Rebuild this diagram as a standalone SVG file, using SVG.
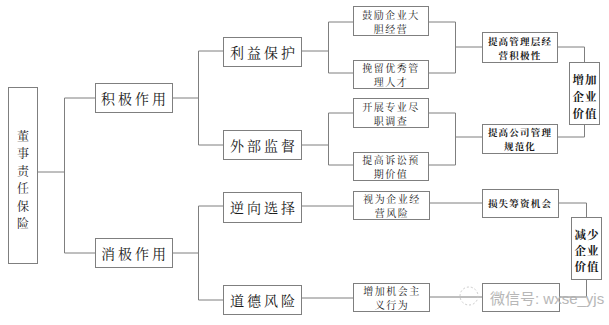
<svg xmlns="http://www.w3.org/2000/svg" width="609" height="325" viewBox="0 0 609 325">
<style>
.b{fill:#fff;stroke:#7f7f7f;stroke-width:1}
.c{fill:none;stroke:#7f7f7f;stroke-width:1}
text{font-family:"Noto Serif CJK SC","Noto Sans CJK SC",serif;fill:#1a1a1a;text-anchor:middle;dominant-baseline:central}
.l1{font-size:14px;letter-spacing:3px}
.r{font-size:12px}
.s{font-size:10px;letter-spacing:1.5px}
.t{font-size:9.5px;letter-spacing:1.2px;font-weight:bold}
.v{font-size:11.5px;font-weight:bold;letter-spacing:1px}
.wm{font-family:"Liberation Sans","Noto Sans CJK SC",sans-serif;fill:#b0b0b0;font-size:15px;text-anchor:start}
</style>
<rect width="609" height="325" fill="#fff"/>
<g id="connectors">
<path class="c" d="M37.5 172H64.5M64.5 98V253M64.5 98H95M64.5 253H95"/>
<path class="c" d="M172 98H198.5M198.5 51V145M198.5 51H223M198.5 145H223"/>
<path class="c" d="M172 253H198.5M198.5 206V300M198.5 206H223M198.5 300H223"/>
<path class="c" d="M301 51H328.5M328.5 22V73M328.5 22H353M328.5 73H353"/>
<path class="c" d="M301 145H328.5M328.5 113V165M328.5 113H353M328.5 165H353"/>
<path class="c" d="M428 22H455.5V73H428M455.5 47H482"/>
<path class="c" d="M428 113H455.5V165H428M455.5 137H482"/>
<path class="c" d="M557 47H584.5V62M557 137H584.5V124"/>
<path class="c" d="M301 206H353M429 203H482M301 298H353M429 297H482"/>
<path class="c" d="M558 203H586.5V217M586.5 279V297H559"/>
</g>
<g id="root"><rect class="b" x="8.5" y="87.5" width="29" height="176"/>
<text class="r" x="23" y="135">董</text><text class="r" x="23" y="152.5">事</text><text class="r" x="23" y="170">责</text><text class="r" x="23" y="187.5">任</text><text class="r" x="23" y="205">保</text><text class="r" x="23" y="222.5">险</text></g>
<g id="pos"><rect class="b" x="95.5" y="83.5" width="77" height="29"/><text class="l1" x="135" y="98">积极作用</text></g>
<g id="neg"><rect class="b" x="95.5" y="238.5" width="77" height="29"/><text class="l1" x="135" y="253">消极作用</text></g>
<g id="lyb"><rect class="b" x="223.5" y="37.5" width="78" height="29"/><text class="l1" x="264" y="52">利益保护</text></g>
<g id="wbjd"><rect class="b" x="223.5" y="130.5" width="78" height="29"/><text class="l1" x="264" y="145">外部监督</text></g>
<g id="nxxz"><rect class="b" x="223.5" y="192.5" width="78" height="30"/><text class="l1" x="264" y="207">逆向选择</text></g>
<g id="ddfx"><rect class="b" x="223.5" y="285.5" width="78" height="29"/><text class="l1" x="264" y="300">道德风险</text></g>
<g id="gl"><rect class="b" x="353.5" y="6.5" width="75" height="29"/><text class="s" x="391" y="14">鼓励企业大</text><text class="s" x="391" y="28">胆经营</text></g>
<g id="wl"><rect class="b" x="353.5" y="60.5" width="75" height="28"/><text class="s" x="391" y="67.5">挽留优秀管</text><text class="s" x="391" y="81.5">理人才</text></g>
<g id="kz"><rect class="b" x="353.5" y="98.5" width="75" height="29"/><text class="s" x="391" y="106">开展专业尽</text><text class="s" x="391" y="120">职调查</text></g>
<g id="ts"><rect class="b" x="353.5" y="152.5" width="75" height="28"/><text class="s" x="391" y="159.5">提高诉讼预</text><text class="s" x="391" y="173.5">期价值</text></g>
<g id="sw"><rect class="b" x="353.5" y="191.5" width="76" height="28"/><text class="s" x="392" y="198.5">视为企业经</text><text class="s" x="392" y="212.5">营风险</text></g>
<g id="zj"><rect class="b" x="353.5" y="283.5" width="76" height="28"/><text class="s" x="392" y="290.5">增加机会主</text><text class="s" x="392" y="304.5">义行为</text></g>
<g id="tg"><rect class="b" x="482.5" y="32.5" width="75" height="30"/><text class="t" x="520" y="40.5">提高管理层经</text><text class="t" x="520" y="54.5">营积极性</text></g>
<g id="tgs"><rect class="b" x="482.5" y="124.5" width="75" height="29"/><text class="t" x="520" y="132">提高公司管理</text><text class="t" x="520" y="146">规范化</text></g>
<g id="ss"><rect class="b" x="482.5" y="189.5" width="76" height="28"/><text class="t" x="520" y="203">损失筹资机会</text></g>
<g id="hidden"><rect class="b" x="482.5" y="283.5" width="77" height="28"/></g>
<g id="zjv"><rect class="b" x="569.5" y="62.5" width="30" height="62"/><text class="v" x="585" y="79">增加</text><text class="v" x="585" y="96">企业</text><text class="v" x="585" y="113">价值</text></g>
<g id="jsv"><rect class="b" x="571.5" y="217.5" width="30" height="62"/><text class="v" x="587" y="234">减少</text><text class="v" x="587" y="250">企业</text><text class="v" x="587" y="266">价值</text></g>
<g id="watermark" opacity="0.9">
<circle cx="469" cy="296" r="9" fill="none" stroke="#c8c8c8" stroke-dasharray="2 2"/>
<text class="wm" x="490" y="298" font-size="15">微信号: wxse_yjs</text>
</g>
</svg>
